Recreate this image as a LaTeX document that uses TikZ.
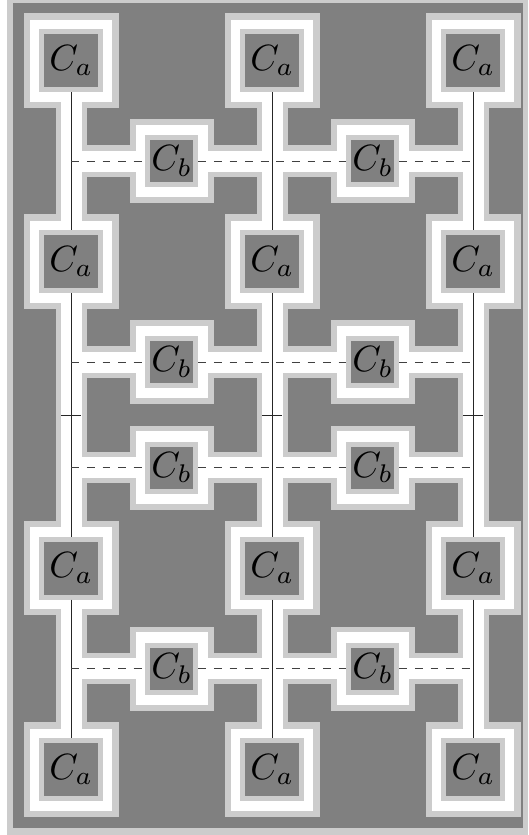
\documentclass[tikz,border=0pt]{standalone}
\usepackage{graphicx}
\pgfdeclarelayer{bg}
\pgfdeclarelayer{lg}
\pgfdeclarelayer{wh}
\pgfsetlayers{bg,lg,wh,main}
\newcommand{\bigmath}[1]{\scalebox{3.65}{$#1$}}
\tikzset{
  base/.style={rectangle, fill=gray, draw=gray!40, line width=5pt, inner sep=0pt, text=black},
  nodeA/.style={base, minimum width=59pt, minimum height=58pt},
  nodeB/.style={base, minimum width=48pt, minimum height=47pt},
  wire/.style={black!85, line width=0.9pt},
  dwire/.style={black!75, line width=0.9pt, dash pattern=on 7.8pt off 7.8pt},
  chanL/.style={gray!40, line width=31.5pt},
  chanW/.style={white, line width=21pt},
  frameL/.style={gray!40},
  frameW/.style={white}
}
\begin{document}
\begin{tikzpicture}[x=1pt,y=-1pt]
\useasboundingbox (0,0) rectangle (528,835);
% Ca nodes and junction coordinates
\foreach \c/\x in {1/71.3,2/272.3,3/473.3}{
  \foreach \r/\y in {1/60.5,2/261.5,3/568,4/769.5}{
    \node[nodeA] (a\r\c) at (\x,\y) {\bigmath{C_a}};
  }
  \coordinate (t\c) at (\x,415);
  \foreach \r/\y in {1/161,2/362,3/467.5,4/668.5}{
    \coordinate (h\r\c) at (\x,\y);
  }
}
% Cb nodes
\foreach \c/\x in {1/171.8,2/372.8}{
  \foreach \r/\y in {1/161,2/362,3/467.5,4/668.5}{
    \node[nodeB] (b\r\c) at (\x,\y) {\bigmath{C_b}};
  }
}
% background
\begin{pgfonlayer}{bg}
  \fill[white] (0,0) rectangle (528,835);
  \fill[gray!40] (7,0) rectangle (528,835);
  \fill[gray] (12.7,2.7) rectangle (522.5,827.5);
\end{pgfonlayer}
% light gray outlines
\begin{pgfonlayer}{lg}
  \foreach \c in {1,2,3} \draw[chanL] (a1\c.center) -- (a4\c.center);
  \foreach \r in {1,2,3,4} \draw[chanL] (h\r1) -- (h\r3);
  \foreach \r in {1,2,3,4}{
    \foreach \c in {1,2,3}
      \fill[frameL] ([shift={(-47.5,-47.2)}]a\r\c.center) rectangle ([shift={(47.5,47.2)}]a\r\c.center);
    \foreach \c in {1,2}
      \fill[frameL] ([shift={(-42,-42)}]b\r\c.center) rectangle ([shift={(42,42)}]b\r\c.center);
  }
\end{pgfonlayer}
% white channels
\begin{pgfonlayer}{wh}
  \foreach \c in {1,2,3} \draw[chanW] (a1\c.center) -- (a4\c.center);
  \foreach \r in {1,2,3,4} \draw[chanW] (h\r1) -- (h\r3);
  \foreach \r in {1,2,3,4}{
    \foreach \c in {1,2,3}
      \fill[frameW] ([shift={(-41,-41)}]a\r\c.center) rectangle ([shift={(41,41)}]a\r\c.center);
    \foreach \c in {1,2}
      \fill[frameW] ([shift={(-36.2,-36.2)}]b\r\c.center) rectangle ([shift={(36.2,36.2)}]b\r\c.center);
  }
\end{pgfonlayer}
% wires
\foreach \c in {1,2,3}{
  \draw[wire] (a1\c) -- (a2\c);
  \draw[wire] (a2\c) -- (t\c) -- (a3\c);
  \draw[wire] (a3\c) -- (a4\c);
  \draw[wire] ([xshift=-10pt]t\c) -- ([xshift=10pt]t\c);
}
\foreach \r in {1,2,3,4}
  \draw[dwire] (h\r1) -- (b\r1) -- (h\r2) -- (b\r2) -- (h\r3);
\end{tikzpicture}
\end{document}
